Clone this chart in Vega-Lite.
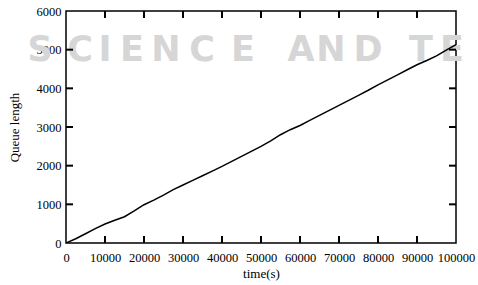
{
  "$schema": "https://vega.github.io/schema/vega-lite/v6.json",
  "width": 390,
  "height": 232,
  "autosize": "none",
  "padding": {"left": 66, "top": 11, "right": 22, "bottom": 42},
  "background": "white",
  "config": {
    "view": {"stroke": "black", "strokeWidth": 1.5},
    "font": "Liberation Serif",
    "axis": {
      "domain": false,
      "grid": false,
      "ticks": false,
      "zindex": 1,
      "labelOverlap": false,
      "labelFlush": false,
      "labelFont": "Liberation Serif",
      "labelFontSize": 12.5,
      "labelColor": "black",
      "titleFont": "Liberation Serif",
      "titleFontSize": 13,
      "titleFontWeight": "normal",
      "titleColor": "black"
    }
  },
  "datasets": {
    "queue": [
      {"t": 0, "q": 0}, {"t": 2500, "q": 110}, {"t": 5000, "q": 240}, {"t": 7500, "q": 370},
      {"t": 10000, "q": 490}, {"t": 12500, "q": 590}, {"t": 15000, "q": 680}, {"t": 17500, "q": 830},
      {"t": 20000, "q": 990}, {"t": 22500, "q": 1110}, {"t": 25000, "q": 1240}, {"t": 27500, "q": 1380},
      {"t": 30000, "q": 1500}, {"t": 32500, "q": 1620}, {"t": 35000, "q": 1740}, {"t": 37500, "q": 1860},
      {"t": 40000, "q": 1980}, {"t": 42500, "q": 2110}, {"t": 45000, "q": 2240}, {"t": 47500, "q": 2370},
      {"t": 50000, "q": 2500}, {"t": 52500, "q": 2640}, {"t": 55000, "q": 2800}, {"t": 57500, "q": 2930},
      {"t": 60000, "q": 3040}, {"t": 62500, "q": 3170}, {"t": 65000, "q": 3300}, {"t": 67500, "q": 3430},
      {"t": 70000, "q": 3560}, {"t": 72500, "q": 3690}, {"t": 75000, "q": 3820}, {"t": 77500, "q": 3950},
      {"t": 80000, "q": 4090}, {"t": 82500, "q": 4220}, {"t": 85000, "q": 4350}, {"t": 87500, "q": 4480},
      {"t": 90000, "q": 4610}, {"t": 92500, "q": 4720}, {"t": 95000, "q": 4840}, {"t": 97500, "q": 4990},
      {"t": 100000, "q": 5130}
    ],
    "watermark": [
      {"t": -6667, "q": 4990, "c": "S"},
      {"t": 3590, "q": 4990, "c": "C"},
      {"t": 10000, "q": 4990, "c": "I"},
      {"t": 16923, "q": 4990, "c": "E"},
      {"t": 25641, "q": 4990, "c": "N"},
      {"t": 34872, "q": 4990, "c": "C"},
      {"t": 45385, "q": 4990, "c": "E"},
      {"t": 60256, "q": 4990, "c": "A"},
      {"t": 67949, "q": 4990, "c": "N"},
      {"t": 77436, "q": 4990, "c": "D"},
      {"t": 91026, "q": 4990, "c": "T"},
      {"t": 98974, "q": 4990, "c": "E"}
    ],
    "xticks": [
      {"t": 10000}, {"t": 20000}, {"t": 30000}, {"t": 40000}, {"t": 50000},
      {"t": 60000}, {"t": 70000}, {"t": 80000}, {"t": 90000}
    ],
    "yticks": [
      {"q": 1000}, {"q": 2000}, {"q": 3000}, {"q": 4000}, {"q": 5000}
    ]
  },
  "layer": [
    {
      "data": {"name": "watermark"},
      "mark": {"type": "text", "font": "DejaVu Sans", "fontWeight": "bold", "fontSize": 35, "color": "#d6d6d6", "baseline": "middle", "align": "center"},
      "encoding": {
        "x": {"field": "t", "type": "quantitative", "scale": {"domain": [0, 100000]}, "axis": null},
        "y": {"field": "q", "type": "quantitative", "scale": {"domain": [0, 6000]}, "axis": null},
        "text": {"field": "c"}
      }
    },
    {
      "data": {"name": "queue"},
      "mark": {"type": "line", "color": "black", "strokeWidth": 1.5, "clip": true},
      "encoding": {
        "x": {"field": "t", "type": "quantitative", "scale": {"domain": [0, 100000]},
          "axis": {"orient": "bottom", "title": "time(s)", "values": [0,10000,20000,30000,40000,50000,60000,70000,80000,90000,100000], "format": "d", "labelPadding": 8, "titlePadding": 4}},
        "y": {"field": "q", "type": "quantitative", "scale": {"domain": [0, 6000]},
          "axis": {"orient": "left", "title": "Queue length", "values": [0,1000,2000,3000,4000,5000,6000], "format": "d", "labelPadding": 5, "titlePadding": 15}}
      }
    },
    {
      "data": {"name": "xticks"},
      "mark": {"type": "rule", "color": "black", "strokeWidth": 2},
      "encoding": {
        "x": {"field": "t", "type": "quantitative", "scale": {"domain": [0, 100000]}, "axis": null},
        "y": {"datum": 0, "type": "quantitative", "scale": {"domain": [0, 6000]}, "axis": null},
        "y2": {"datum": 180}
      }
    },
    {
      "data": {"name": "xticks"},
      "mark": {"type": "rule", "color": "black", "strokeWidth": 2},
      "encoding": {
        "x": {"field": "t", "type": "quantitative", "scale": {"domain": [0, 100000]}, "axis": null},
        "y": {"datum": 5820, "type": "quantitative", "scale": {"domain": [0, 6000]}, "axis": null},
        "y2": {"datum": 6000}
      }
    },
    {
      "data": {"name": "yticks"},
      "mark": {"type": "rule", "color": "black", "strokeWidth": 2},
      "encoding": {
        "y": {"field": "q", "type": "quantitative", "scale": {"domain": [0, 6000]}, "axis": null},
        "x": {"datum": 0, "type": "quantitative", "scale": {"domain": [0, 100000]}, "axis": null},
        "x2": {"datum": 1800}
      }
    },
    {
      "data": {"name": "yticks"},
      "mark": {"type": "rule", "color": "black", "strokeWidth": 2},
      "encoding": {
        "y": {"field": "q", "type": "quantitative", "scale": {"domain": [0, 6000]}, "axis": null},
        "x": {"datum": 98200, "type": "quantitative", "scale": {"domain": [0, 100000]}, "axis": null},
        "x2": {"datum": 100000}
      }
    }
  ],
  "resolve": {"axis": {"x": "independent", "y": "independent"}}
}
